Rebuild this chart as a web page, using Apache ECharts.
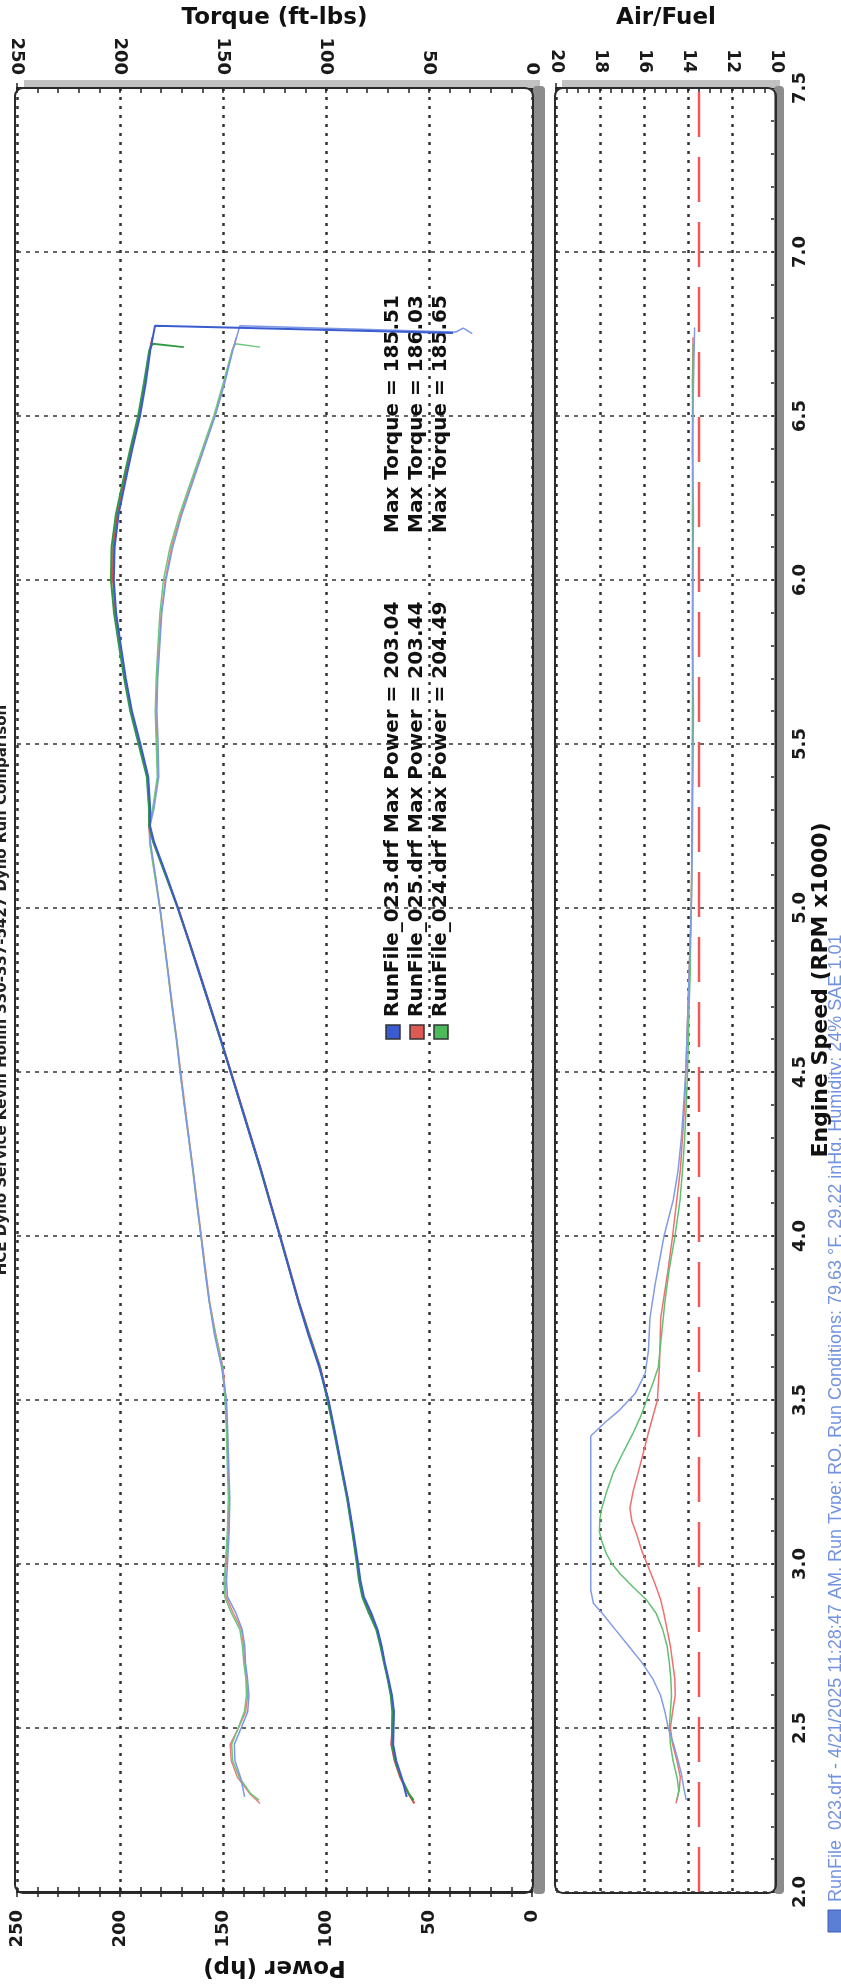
<!DOCTYPE html>
<html><head><meta charset="utf-8">
<script src="https://cdn.jsdelivr.net/npm/echarts/dist/echarts.min.js"></script>
<style>html,body{margin:0;padding:0;background:#fff;}#c{width:841px;height:1986px;}</style>
</head><body><div id="c"></div>
<script>
// ---------- DATA ----------
const powerTicks = [0, 50, 100, 150, 200, 250];
const afrTicks = [10, 12, 14, 16, 18, 20];
const runNames = ['RunFile_023.drf', 'RunFile_025.drf', 'RunFile_024.drf'];
const maxPower = [203.04, 203.44, 204.49];
const maxTorque = [185.51, 186.03, 185.65];
const afrTarget = 13.5;

// Run 023 (blue)
const rpm023 = [2.29,2.35,2.40,2.45,2.50,2.55,2.60,2.65,2.70,2.75,2.80,2.85,2.90,2.95,3.00,3.10,3.20,3.30,3.40,3.50,3.60,3.70,3.80,3.90,4.00,4.10,4.20,4.30,4.40,4.50,4.60,4.70,4.80,4.90,5.00,5.10,5.20,5.25,5.30,5.40,5.50,5.60,5.70,5.80,5.90,6.00,6.10,6.20,6.30,6.40,6.50,6.60,6.70,6.775];
const power023 = [60.8,63.3,65.9,67.4,67.2,67.0,68.0,69.7,71.5,73.0,75.0,78.0,81.6,83.3,84.4,86.8,89.4,92.5,95.6,98.8,103.3,108.6,113.4,117.9,122.4,127.0,131.5,136.5,141.4,146.3,151.1,156.3,161.4,166.6,171.9,177.5,183.4,185.4,185.3,186.3,190.1,194.2,197.2,199.6,201.9,203.0,202.6,200.7,197.4,194.0,190.3,187.5,185.3,183.0];
const torque023 = [139.5,141.5,144.2,144.5,141.2,138.0,137.4,138.1,139.1,139.4,140.7,143.7,147.8,148.3,147.8,147.0,146.7,147.2,147.7,148.3,150.7,154.2,156.7,158.8,160.7,162.7,164.5,166.7,168.8,170.8,172.5,174.7,176.6,178.6,180.6,182.8,185.2,185.5,183.6,181.2,181.5,182.1,181.7,180.7,179.7,177.7,174.4,170.0,164.6,159.2,153.8,149.2,145.2,141.8];
const tailRpmPower023 = [6.753];
const tailPower023 = [38.3];
const tailRpmTorque023 = [6.756, 6.768, 6.751];
const tailTorque023 = [37.0, 33.4, 29.0];

// Run 025 (red)
const rpm025 = [2.27,2.30,2.35,2.40,2.45,2.50,2.55,2.60,2.65,2.70,2.75,2.80,2.85,2.90,2.95,3.00,3.10,3.20,3.30,3.40,3.50,3.60,3.70,3.80,3.90,4.00,4.10,4.20,4.30,4.40,4.50,4.60,4.70,4.80,4.90,5.00,5.10,5.20,5.25,5.30,5.40,5.50,5.60,5.70,5.80,5.90,6.00,6.10,6.20,6.30,6.40,6.50,6.60,6.70,6.74];
const power025 = [57.1,60.0,64.0,66.7,68.3,67.8,67.5,68.3,69.9,71.7,73.3,75.2,78.7,82.0,83.7,84.8,87.1,89.6,92.7,95.8,99.0,102.8,108.1,113.2,117.7,122.2,126.9,131.5,136.3,141.2,146.1,151.1,156.2,161.3,166.5,171.8,177.7,183.7,185.9,185.7,186.6,190.6,194.6,197.5,199.9,202.2,203.4,203.3,201.3,197.9,194.4,190.6,187.9,185.6,184.2];
const torque025 = [132.0,137.0,143.0,146.0,146.5,142.5,139.0,138.0,138.5,139.5,140.0,141.0,145.0,148.5,149.0,148.5,147.5,147.0,147.5,148.0,148.5,150.0,153.5,156.5,158.5,160.5,162.5,164.5,166.5,168.5,170.5,172.5,174.5,176.5,178.5,180.5,183.0,185.5,186.0,184.0,181.5,182.0,182.5,182.0,181.0,180.0,178.0,175.0,170.5,165.0,159.5,154.0,149.5,145.5,143.5];

// Run 024 (green)
const rpm024 = [2.28,2.30,2.35,2.40,2.45,2.50,2.55,2.60,2.65,2.70,2.75,2.80,2.85,2.90,2.95,3.00,3.10,3.20,3.30,3.40,3.50,3.60,3.70,3.80,3.90,4.00,4.10,4.20,4.30,4.40,4.50,4.60,4.70,4.80,4.90,5.00,5.10,5.20,5.25,5.30,5.40,5.50,5.60,5.70,5.80,5.90,6.00,6.10,6.20,6.30,6.40,6.50,6.60,6.70,6.72,6.71];
const power024 = [57.5,59.8,63.6,66.4,68.0,67.9,67.8,68.6,70.1,71.9,73.6,75.6,79.2,82.4,84.0,85.0,87.3,89.8,92.9,96.0,99.3,103.0,108.3,113.4,117.9,122.4,127.1,131.7,136.5,141.4,146.3,151.3,156.4,161.5,166.7,172.0,177.9,183.8,185.9,185.9,187.0,191.0,195.0,198.0,200.5,202.9,204.4,204.1,202.0,198.6,195.0,191.2,188.4,185.8,184.2,169.0];
const torque024 = [132.5,136.6,142.1,145.3,145.8,142.6,139.6,138.6,138.9,139.9,140.6,141.8,145.9,149.2,149.5,148.8,147.9,147.4,147.9,148.3,149.0,150.3,153.7,156.7,158.8,160.7,162.8,164.7,166.7,168.8,170.8,172.7,174.8,176.7,178.7,180.7,183.2,185.6,185.6,184.2,181.9,182.4,182.9,182.4,181.6,180.6,178.9,175.7,171.1,165.6,160.0,154.5,149.9,145.6,144.0,132.0];

// Air/Fuel
const afrRpm023 = [2.28,2.32,2.36,2.40,2.45,2.50,2.55,2.60,2.65,2.70,2.75,2.80,2.85,2.88,2.92,3.00,3.10,3.20,3.30,3.39,3.43,3.47,3.52,3.58,3.65,3.75,3.85,4.00,4.11,4.20,4.30,4.40,4.50,4.60,4.70,4.80,4.90,5.00,5.20,5.40,5.60,5.80,6.00,6.20,6.40,6.60,6.70,6.77];
const afr023 = [14.08,14.2,14.3,14.45,14.65,14.9,15.05,15.25,15.6,16.1,16.7,17.3,17.9,18.3,18.42,18.42,18.42,18.42,18.42,18.42,17.8,17.1,16.4,15.95,15.8,15.73,15.5,15.09,14.67,14.45,14.3,14.2,14.1,14.05,14.0,13.95,13.9,13.85,13.8,13.78,13.75,13.8,13.78,13.75,13.8,13.75,13.72,13.7];
const afrRpm025 = [2.27,2.31,2.35,2.40,2.45,2.50,2.55,2.60,2.65,2.70,2.75,2.80,2.85,2.89,2.94,2.99,3.04,3.09,3.13,3.17,3.22,3.30,3.40,3.50,3.60,3.75,3.90,4.00,4.11,4.20,4.30,4.40,4.50,4.60,4.70,4.80,4.90,5.00,5.20,5.40,5.60,5.80,6.00,6.20,6.40,6.60,6.74];
const afr025 = [14.55,14.4,14.35,14.5,14.7,14.8,14.7,14.58,14.6,14.7,14.8,14.95,15.1,15.24,15.5,15.8,16.1,16.33,16.55,16.64,16.5,16.18,15.8,15.39,15.3,15.24,14.9,14.7,14.51,14.35,14.25,14.15,14.1,14.05,14.0,13.95,13.9,13.85,13.82,13.8,13.78,13.8,13.78,13.8,13.78,13.8,13.77];
const afrRpm024 = [2.28,2.31,2.35,2.40,2.45,2.50,2.55,2.60,2.65,2.70,2.75,2.80,2.85,2.89,2.93,2.97,3.00,3.03,3.07,3.10,3.14,3.17,3.22,3.28,3.34,3.40,3.45,3.50,3.55,3.60,3.70,3.80,3.90,4.00,4.11,4.20,4.30,4.40,4.50,4.60,4.70,4.80,4.90,5.00,5.20,5.40,5.60,5.80,6.00,6.20,6.40,6.60,6.72];
const afr024 = [14.5,14.42,14.5,14.68,14.8,14.85,14.8,14.75,14.78,14.85,14.95,15.15,15.45,15.88,16.5,17.09,17.45,17.7,17.92,18.03,18.0,17.92,17.7,17.39,16.95,16.49,16.15,15.88,15.6,15.35,15.2,15.05,14.85,14.59,14.36,14.25,14.15,14.08,14.02,13.98,13.95,13.9,13.88,13.85,13.82,13.8,13.8,13.78,13.8,13.78,13.8,13.78,13.76];

const headerText = 'HCE Dyno Service Kevin Hollin 330-337-5427 Dyno Run Comparison';
const footerText = 'RunFile_023.drf - 4/21/2025 11:28:47 AM, Run Type: RO, Run Conditions: 79.63 \u00B0F, 29.22 inHg, Humidity: 24% SAE 1.01';

// ---------- BUILD ----------
const pairs = (ys, vs) => vs.map((v, i) => [v, ys[i]]);
const col = {
  pBlue:'#3b5bd0', pRed:'#e0453e', pGreen:'#2f9c45',
  tBlue:'#7c97e6', tRed:'#ef7e7a', tGreen:'#6cc67c',
  aBlue:'#809ce6', aRed:'#ee7070', aGreen:'#62c072'
};
const INK = '#222';
const labelFont = {fontFamily:'DejaVu Sans', fontWeight:'bold', fontSize:18, color:'#1a1a1a'};
const dotted = {type:[3,6], width:2.5, color:'#333'};
const dashed = {type:[4,5], width:1.5, color:'#333'};

function tickAxisBase(extra){
  return Object.assign({
    type:'value', axisLine:{onZero:false, show:false}, axisLabel:{show:false},
    splitLine:{show:false}
  }, extra);
}

const xAxes = [
  {type:'value', gridIndex:0, position:'bottom', min:0, max:250, interval:50, inverse:true,
   axisLine:{show:true, onZero:false, lineStyle:{color:INK, width:2}},
   axisTick:{show:true, length:5, lineStyle:{color:INK, width:1.5}},
   minorTick:{show:true, splitNumber:5, length:5, lineStyle:{color:INK, width:1.5}},
   axisLabel:Object.assign({rotate:90, margin:18}, labelFont),
   splitLine:{show:true, lineStyle:dotted},
   name:'Power (hp)', nameLocation:'middle', nameRotate:180, nameGap:56,
   nameTextStyle:{fontFamily:'DejaVu Sans', fontWeight:'bold', fontSize:23, color:'#111'}},
  {type:'value', gridIndex:0, position:'top', min:0, max:250, interval:50, inverse:true,
   axisLine:{show:true, onZero:false, lineStyle:{color:INK, width:2}},
   axisTick:{show:true, length:5, lineStyle:{color:INK, width:1.5}},
   minorTick:{show:true, splitNumber:5, length:5, lineStyle:{color:INK, width:1.5}},
   axisLabel:Object.assign({rotate:90, margin:13}, labelFont),
   splitLine:{show:false},
   name:'Torque (ft-lbs)', nameLocation:'middle', nameGap:58,
   nameTextStyle:{fontFamily:'DejaVu Sans', fontWeight:'bold', fontSize:23, color:'#111'}},
  tickAxisBase({gridIndex:0, position:'bottom', min:0, max:250, interval:50, inverse:true,
   axisTick:{show:true, inside:true, length:5, lineStyle:{color:INK, width:1.5}},
   minorTick:{show:true, splitNumber:5, length:5, lineStyle:{color:INK, width:1.5}}}),
  tickAxisBase({gridIndex:0, position:'top', min:0, max:250, interval:50, inverse:true,
   axisTick:{show:true, inside:true, length:5, lineStyle:{color:INK, width:1.5}},
   minorTick:{show:true, splitNumber:5, length:5, lineStyle:{color:INK, width:1.5}}}),
  {type:'value', gridIndex:1, position:'top', min:10, max:20, interval:2, inverse:true,
   axisLine:{show:true, onZero:false, lineStyle:{color:INK, width:2}},
   axisTick:{show:true, length:5, lineStyle:{color:INK, width:1.5}},
   minorTick:{show:true, splitNumber:4, length:5, lineStyle:{color:INK, width:1.5}},
   axisLabel:Object.assign({rotate:90, margin:15}, labelFont, {fontSize:17}),
   splitLine:{show:true, lineStyle:dotted},
   name:'Air/Fuel', nameLocation:'middle', nameGap:58,
   nameTextStyle:{fontFamily:'DejaVu Sans', fontWeight:'bold', fontSize:23, color:'#111'}},
  tickAxisBase({gridIndex:1, position:'top', min:10, max:20, interval:2, inverse:true,
   axisTick:{show:true, inside:true, length:5, lineStyle:{color:INK, width:1.5}},
   minorTick:{show:true, splitNumber:4, length:5, lineStyle:{color:INK, width:1.5}}})
];

const yAxes = [
  {type:'value', gridIndex:0, position:'left', min:2, max:7.5, interval:0.5,
   axisLine:{show:false, onZero:false}, axisTick:{show:false}, axisLabel:{show:false},
   splitLine:{show:true, lineStyle:dashed}},
  {type:'value', gridIndex:1, position:'right', min:2, max:7.5, interval:0.5,
   axisLine:{show:true, onZero:false, lineStyle:{color:INK, width:2}},
   axisTick:{show:true, length:5, lineStyle:{color:INK, width:1.5}},
   minorTick:{show:true, splitNumber:5, length:5, lineStyle:{color:INK, width:1.5}},
   axisLabel:Object.assign({rotate:90, margin:15, formatter:v => v.toFixed(1)}, labelFont),
   splitLine:{show:true, lineStyle:dashed},
   name:'Engine Speed (RPM x1000)', nameLocation:'middle', nameRotate:90, nameGap:34,
   nameTextStyle:{fontFamily:'DejaVu Sans', fontWeight:'bold', fontSize:22, color:'#111'}},
  tickAxisBase({gridIndex:1, position:'right', min:2, max:7.5, interval:0.5,
   axisTick:{show:true, inside:true, length:5, lineStyle:{color:INK, width:1.5}},
   minorTick:{show:true, splitNumber:5, length:5, lineStyle:{color:INK, width:1.5}}})
];

function lineSeries(name, data, color, width, xi, yi, extra){
  return Object.assign({name, type:'line', data, xAxisIndex:xi, yAxisIndex:yi,
    showSymbol:false, symbol:'none', smooth:false, silent:true,
    lineStyle:{color, width}, itemStyle:{color}, z:3}, extra || {});
}

const series = [
  lineSeries('T025', pairs(rpm025, torque025), col.tRed, 1.5, 0, 0),
  lineSeries('T024', pairs(rpm024, torque024), col.tGreen, 1.5, 0, 0),
  lineSeries('T023', pairs(rpm023.concat(tailRpmTorque023), torque023.concat(tailTorque023)), col.tBlue, 1.5, 0, 0),
  lineSeries('P025', pairs(rpm025, power025), col.pRed, 2, 0, 0),
  lineSeries('P024', pairs(rpm024, power024), col.pGreen, 2, 0, 0),
  lineSeries('P023', pairs(rpm023.concat(tailRpmPower023), power023.concat(tailPower023)), col.pBlue, 2, 0, 0),
  lineSeries('Target', [[afrTarget, 2.0], [afrTarget, 7.5]], '#ef5858', 2.5, 4, 1, {lineStyle:{color:'#ef5858', width:2.5, type:[45,20]}}),
  lineSeries('A025', pairs(afrRpm025, afr025), col.aRed, 1.5, 4, 1),
  lineSeries('A024', pairs(afrRpm024, afr024), col.aGreen, 1.5, 4, 1),
  lineSeries('A023', pairs(afrRpm023, afr023), col.aBlue, 1.5, 4, 1)
];

const swatch = [col.pBlue, '#e05a55', '#4cbb5c'];
const legendChildren = [];
runNames.forEach((n, i) => {
  legendChildren.push({type:'rect', shape:{x:-4, y:i*24-7, width:14, height:14},
    style:{fill:swatch[i], stroke:'#333', lineWidth:1.5}});
  legendChildren.push({type:'text', style:{x:18, y:i*24, text:n + ' Max Power = ' + maxPower[i].toFixed(2),
    font:'bold 20px "DejaVu Sans"', fill:'#111', align:'left', verticalAlign:'middle',
    textAlign:'left', textVerticalAlign:'middle'}});
  legendChildren.push({type:'text', style:{x:502, y:i*24, text:'Max Torque = ' + maxTorque[i].toFixed(2),
    font:'bold 20px "DejaVu Sans"', fill:'#111', align:'left', verticalAlign:'middle',
    textAlign:'left', textVerticalAlign:'middle'}});
});

const graphic = [
  {type:'rect', shape:{x:24, y:80, width:516, height:8}, style:{fill:'#c2c2c2'}, z:1, silent:true},
  {type:'rect', shape:{x:533, y:86, width:12, height:1808, r:[4,4,4,4]}, style:{fill:'#8c8c8c'}, z:1, silent:true},
  {type:'rect', shape:{x:15, y:88, width:518, height:1805, r:8}, style:{fill:'none', stroke:'#2a2a2a', lineWidth:2}, z:10, silent:true},
  {type:'rect', shape:{x:562, y:80, width:218, height:8}, style:{fill:'#c2c2c2'}, z:1, silent:true},
  {type:'rect', shape:{x:774, y:86, width:10, height:1808, r:[4,4,4,4]}, style:{fill:'#8c8c8c'}, z:1, silent:true},
  {type:'rect', shape:{x:555, y:88, width:221, height:1805, r:8}, style:{fill:'none', stroke:'#2a2a2a', lineWidth:2}, z:10, silent:true},
  {type:'group', x:393, y:1035, rotation:Math.PI/2, z:20, silent:true, children:legendChildren},
  {type:'group', x:2, y:990, rotation:Math.PI/2, z:20, silent:true, children:[
    {type:'text', style:{x:0, y:0, text:headerText, font:'bold 15px "DejaVu Sans"', fill:'#222',
      align:'center', verticalAlign:'middle', textAlign:'center', textVerticalAlign:'middle'}}]},
  {type:'group', x:836, y:1902, rotation:Math.PI/2, z:20, silent:true, children:[
    {type:'rect', shape:{x:-30, y:-8, width:22, height:16}, style:{fill:'#5c7fd6', stroke:'#3d5fb8', lineWidth:1}},
    {type:'text', style:{x:0, y:0, text:footerText, font:'18px "Liberation Sans"', fill:'#7393de',
      align:'left', verticalAlign:'middle', textAlign:'left', textVerticalAlign:'middle'}}]}
];

const chart = echarts.init(document.getElementById('c'), null, {renderer:'canvas'});
chart.setOption({
  animation:false,
  backgroundColor:'#ffffff',
  grid:[
    {left:17, top:88, width:515, height:1804, containLabel:false, outerBoundsMode:'none'},
    {left:556, top:88, width:220, height:1804, containLabel:false, outerBoundsMode:'none'}
  ],
  xAxis:xAxes,
  yAxis:yAxes,
  series:series,
  graphic:graphic
});
</script>
</body></html>
